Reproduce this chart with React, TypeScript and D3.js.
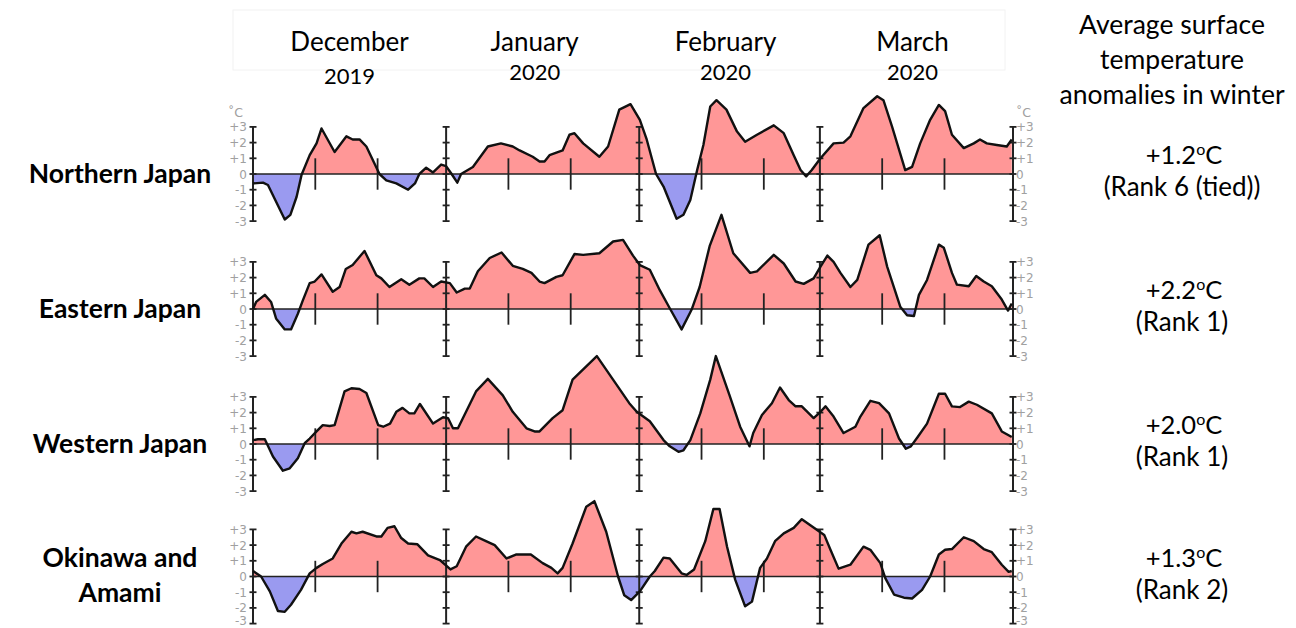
import React, { useRef, useEffect } from "react";
import * as d3 from "d3";

// day offsets from 1 Dec 2019, anomaly in degC
const northern: [number, number][] = [
  [0, -0.6], [1.6, -0.55], [2.4, -0.7], [5.1, -2.9], [6, -2.6], [7, -1.45], [7.8, -0.05], [9.1, 1.2],
  [10.2, 1.95], [11, 2.9], [13.1, 1.4], [15, 2.4], [16, 2.2], [17.1, 2.2], [18.2, 1.75], [20.3, 0],
  [21.4, -0.4], [23, -0.6], [24.9, -1.0], [26, -0.6], [26.7, 0], [27.8, 0.4], [28.9, 0.1], [30.2, 0.6],
  [31, 0.5], [31.8, 0.05], [32.8, -0.55], [33.4, 0], [35.3, 0.45], [37.7, 1.75], [39.8, 1.95], [41.7, 1.75],
  [42.8, 1.5], [44.9, 1.1], [46, 0.8], [46.8, 0.8], [47.6, 1.2], [49.7, 1.5], [50.8, 2.5], [51.6, 2.6],
  [53, 1.95], [55.6, 1.1], [57, 1.75], [58.8, 4.1], [60.6, 4.45], [62.1, 3.45], [63.2, 2.2], [64.7, 0],
  [65.9, -0.8], [68, -2.85], [69.1, -2.6], [70.2, -1.65], [71.3, 0.25], [72.3, 1.85], [73.4, 4.3], [74.4, 4.7],
  [76, 4.1], [77.7, 2.7], [79, 2.05], [80.9, 2.5], [83.6, 3.1], [85.2, 2.6], [86.8, 1.2], [87.9, 0.25],
  [88.8, -0.15], [89.7, 0.25], [91.1, 1.0], [93.2, 1.95], [94.8, 2.0], [95.9, 2.4], [98, 4.2], [100.2, 4.95],
  [101.2, 4.7], [102.6, 3.0], [104.7, 0.25], [105.8, 0.45], [107.1, 1.95], [108.7, 3.45], [110.1, 4.4], [111.1, 4.0],
  [112.2, 2.5], [114.1, 1.65], [115.7, 1.95], [116.7, 2.2], [117.8, 1.95], [119.4, 1.85], [121, 1.75], [121.8, 2.2]
];

const eastern: [number, number][] = [
  [0, 0], [0.5, 0.45], [1.9, 0.9], [2.9, 0.45], [3.7, -0.6], [5.1, -1.3], [6.1, -1.3], [7.2, -0.3],
  [8, 0.55], [9.1, 1.65], [9.9, 1.75], [11, 2.2], [12.8, 1.1], [13.9, 1.4], [14.9, 2.55], [16, 2.8],
  [17.9, 3.7], [19.8, 2.15], [20.6, 1.95], [21.9, 1.4], [23.8, 1.9], [25.1, 1.55], [26.7, 1.95], [27.5, 1.95],
  [28.9, 1.4], [30.2, 1.75], [31.6, 1.65], [32.7, 1.05], [34, 1.3], [34.8, 1.3], [36.1, 2.4], [38, 3.25],
  [39.9, 3.6], [41.7, 2.75], [43.3, 2.55], [44.7, 2.3], [46, 1.75], [46.8, 1.65], [48.7, 2.05], [49.7, 2.15],
  [51.6, 3.5], [53, 3.45], [55.6, 3.55], [57.8, 4.3], [59.4, 4.4], [61, 3.4], [62.1, 2.8], [63.7, 2.5],
  [65.3, 1.2], [66.9, 0.05], [68.8, -1.3], [70.4, -0.05], [71.7, 1.4], [73.3, 4.0], [75.2, 6.0], [77.1, 3.55],
  [79.8, 2.3], [80.9, 2.4], [83.6, 3.45], [85.2, 2.9], [87.1, 1.75], [88.4, 1.6], [90, 1.95], [91.1, 2.7],
  [92.2, 3.4], [93.2, 3.0], [94.3, 2.3], [95.9, 1.4], [97, 1.85], [98.8, 4.1], [100.6, 4.7], [101.8, 2.7],
  [103.9, 0.15], [105, -0.4], [106.1, -0.45], [106.9, 0.9], [108.2, 1.85], [110.1, 4.1], [110.9, 3.9], [112.2, 2.3],
  [113, 1.55], [114.9, 1.45], [116.1, 2.1], [117.3, 1.75], [118.6, 1.45], [120.2, 0.6], [121.2, -0.1], [121.8, 0.35]
];

const western: [number, number][] = [
  [0, 0.25], [0.8, 0.3], [1.9, 0.3], [3.2, -0.8], [4.8, -1.7], [5.9, -1.55], [7.2, -0.9], [8.3, 0.05],
  [9.1, 0.35], [10.2, 0.8], [11.2, 1.2], [12.3, 1.15], [13.1, 1.2], [14.7, 3.35], [15.8, 3.55], [17.1, 3.5],
  [18.2, 3.25], [20.1, 1.2], [20.9, 1.1], [22, 1.3], [23, 2.05], [24, 2.3], [25.1, 1.95], [25.9, 1.95],
  [26.8, 2.55], [28.9, 1.3], [30.5, 1.7], [31.3, 1.65], [32.1, 1.0], [32.9, 1.0], [35.8, 3.35], [37.7, 4.15],
  [40.1, 3.1], [41.7, 2.05], [43.9, 1.0], [45.2, 0.8], [46, 0.8], [48.1, 1.65], [49.7, 2.15], [51.3, 4.1],
  [55.2, 5.6], [57.8, 4.1], [60.4, 2.6], [61.6, 2.05], [63.7, 1.45], [65.9, 0.25], [66.9, -0.15], [68.3, -0.5],
  [69.1, -0.4], [70.2, 0.25], [71.8, 1.95], [73.4, 4.1], [74.3, 5.6], [76.5, 3.1], [78.2, 1.1], [79.7, -0.15],
  [80.3, 0.7], [81.7, 1.85], [83.3, 2.6], [84.6, 3.6], [86, 2.8], [87.1, 2.4], [88.1, 2.4], [90, 1.65],
  [91.1, 2.05], [91.9, 2.4], [93.2, 1.75], [94.8, 0.7], [96.7, 1.1], [97.5, 1.75], [99.1, 2.75], [100.5, 2.6],
  [102.1, 1.95], [103.7, 0.35], [104.8, -0.3], [105.6, -0.15], [106.7, 0.45], [108.2, 1.3], [110.1, 3.2], [111.1, 3.2],
  [112.2, 2.4], [113.5, 2.35], [114.9, 2.7], [116.2, 2.5], [118.6, 1.95], [120.2, 0.8], [121.8, 0.45]
];

const okinawa: [number, number][] = [
  [0, 0.35], [1.3, 0], [2.7, -0.95], [4, -2.2], [5.1, -2.25], [6.1, -1.8], [7.7, -0.85], [9.1, 0.2],
  [10.2, 0.55], [11.2, 0.8], [12.8, 1.15], [14.2, 2.1], [15.8, 2.85], [16.6, 2.75], [17.6, 2.85], [19.8, 2.55],
  [20.6, 2.55], [21.6, 3.1], [22.7, 3.2], [23.8, 2.45], [24.9, 2.1], [26.4, 2.05], [28.1, 1.35], [30, 1.05],
  [31.7, 0.45], [32.7, 0.65], [34.2, 1.9], [35.8, 2.55], [37.4, 2.25], [38.8, 2.0], [40.7, 1.15], [42.2, 1.4],
  [44.6, 1.4], [46.5, 0.85], [47.9, 0.55], [48.9, 0.2], [49.7, 0.55], [51.3, 2.1], [53.5, 4.45], [54.8, 4.8],
  [56.7, 2.85], [58.6, 0], [59.6, -1.2], [60.7, -1.5], [62.1, -0.95], [63.7, 0], [64.5, 0.35], [65.9, 1.2],
  [66.9, 1.15], [68.8, 0.2], [69.6, 0.1], [70.8, 0.45], [72.6, 2.25], [73.9, 4.3], [74.9, 4.3], [76.1, 1.9],
  [77.4, -0.2], [79, -1.9], [80.1, -1.6], [81.4, 0.55], [82.5, 1.15], [83.8, 2.25], [85.2, 2.75], [86.8, 3.1],
  [88.1, 3.65], [89.7, 3.2], [91.7, 2.65], [92.7, 1.7], [94, 0.5], [95.9, 0.75], [98, 1.9], [99.1, 1.7],
  [100.7, 0.85], [101.5, -0.1], [102.9, -1.15], [104.5, -1.35], [105.8, -1.4], [107.4, -0.85], [108.7, 0], [110.1, 1.4],
  [111.1, 1.7], [112.2, 1.75], [114.1, 2.5], [115.7, 2.25], [117.3, 1.75], [118.6, 1.55], [120.2, 0.75], [121.3, 0.3],
  [121.8, 0.35]
];

const regions = [["Northern Japan"], ["Eastern Japan"], ["Western Japan"], ["Okinawa and", "Amami"]];
const seriesList = [northern, eastern, western, okinawa];
const anomalies = ["+1.2", "+2.2", "+2.0", "+1.3"];
const ranks = ["(Rank 6 (tied))", "(Rank 1)", "(Rank 1)", "(Rank 2)"];
const months = [["December", "2019"], ["January", "2020"], ["February", "2020"], ["March", "2020"]];
const headerLines = ["Average surface", "temperature", "anomalies in winter"];
const yTicks = [3, 2, 1, 0, -1, -2, -3];

const FONT = "Lato, 'Open Sans', sans-serif";
const TICKFONT = "'DejaVu Sans', sans-serif";

export default function App() {
  const ref = useRef<SVGSVGElement>(null);

  useEffect(() => {
    const svg = d3.select(ref.current);
    svg.selectAll("*").remove();

    const start = new Date(2019, 11, 1);
    const end = new Date(2020, 3, 1);
    const toDate = (d: number) => new Date(start.getTime() + d * 864e5);
    const x = d3.scaleTime().domain([start, end]).range([253, 1013]);
    const monthStarts = d3.timeMonth.range(start, d3.timeDay.offset(end, 1));
    const minor: Date[] = [];
    monthStarts.slice(0, 4).forEach((m) => {
      minor.push(d3.timeDay.offset(m, 10), d3.timeDay.offset(m, 20));
    });

    // header
    const header = svg.append("g");
    header.append("rect").attr("x", 233).attr("y", 10).attr("width", 772).attr("height", 60)
      .attr("fill", "none").attr("stroke", "#f2f2f2");
    const monthMid = monthStarts.slice(0, 4).map((m, i) => (x(m) + x(monthStarts[i + 1])) / 2);
    months.forEach((m, i) => {
      const cx = monthMid[i] + [0, -8, -4, -4][i];
      header.append("text").attr("x", cx).attr("y", 51).attr("text-anchor", "middle")
        .attr("font-family", FONT).attr("font-size", 26).text(m[0]);
      header.append("text").attr("x", cx).attr("y", [84, 80, 80, 80][i]).attr("text-anchor", "middle")
        .attr("font-family", FONT).attr("font-size", 22).text(m[1]);
    });
    headerLines.forEach((t, i) => {
      header.append("text").attr("x", 1172).attr("y", 34 + i * 35).attr("text-anchor", "middle")
        .attr("font-family", FONT).attr("font-size", 26.5).text(t);
    });

    const zeros = [174, 309, 444, 576.5];

    seriesList.forEach((series, i) => {
      const z = zeros[i];
      const y = d3.scaleLinear().domain([-3, 3]).range([z + 47.1, z - 47.1]);
      const g = svg.append("g");

      const upId = "up" + i;
      const dnId = "dn" + i;
      const defs = g.append("defs");
      defs.append("clipPath").attr("id", upId).append("rect")
        .attr("x", 0).attr("y", z - 200).attr("width", 1296).attr("height", 200);
      defs.append("clipPath").attr("id", dnId).append("rect")
        .attr("x", 0).attr("y", z).attr("width", 1296).attr("height", 200);

      const area = d3.area<[number, number]>()
        .x((d) => x(toDate(d[0])))
        .y0(y(0))
        .y1((d) => y(d[1]));
      const line = d3.line<[number, number]>()
        .x((d) => x(toDate(d[0])))
        .y((d) => y(d[1]));

      g.append("path").datum(series).attr("d", area).attr("fill", "#ff9797")
        .attr("clip-path", `url(#${upId})`);
      g.append("path").datum(series).attr("d", area).attr("fill", "#9a9af0")
        .attr("clip-path", `url(#${dnId})`);

      // zero line
      g.append("line").attr("x1", x(start)).attr("x2", x(end)).attr("y1", y(0)).attr("y2", y(0))
        .attr("stroke", "#222").attr("stroke-width", 1.6);

      // month boundary axes
      monthStarts.forEach((m) => {
        const mx = x(m);
        g.append("line").attr("x1", mx).attr("x2", mx).attr("y1", y(3)).attr("y2", y(-3))
          .attr("stroke", "#222").attr("stroke-width", 2);
        yTicks.forEach((t) => {
          g.append("line").attr("x1", mx - 3.5).attr("x2", mx + 3.5).attr("y1", y(t)).attr("y2", y(t))
            .attr("stroke", "#222").attr("stroke-width", 1.8);
        });
      });
      minor.forEach((m) => {
        const mx = x(m);
        g.append("line").attr("x1", mx).attr("x2", mx).attr("y1", y(1)).attr("y2", y(-1))
          .attr("stroke", "#222").attr("stroke-width", 1.8);
      });

      g.append("path").datum(series).attr("d", line).attr("fill", "none")
        .attr("stroke", "#111").attr("stroke-width", 2.4).attr("stroke-linejoin", "round");

      // tick labels
      yTicks.forEach((t) => {
        const lab = t > 0 ? "+" + t : String(t);
        const ty = Math.min(y(t) + 4.5, 625);
        g.append("text").attr("x", x(start) - 6).attr("y", ty).attr("text-anchor", "end")
          .attr("font-family", TICKFONT).attr("font-size", 12).attr("fill", "#a0a0a0").text(lab);
        g.append("text").attr("x", x(end) + 3).attr("y", ty).attr("text-anchor", "start")
          .attr("font-family", TICKFONT).attr("font-size", 12).attr("fill", "#a0a0a0").text(lab);
      });
      if (i === 0) {
        g.append("text").attr("x", x(start) - 25).attr("y", y(3) - 10)
          .attr("font-family", TICKFONT).attr("font-size", 12.5).attr("fill", "#a0a0a0").text("˚C");
        g.append("text").attr("x", x(end) + 3).attr("y", y(3) - 10)
          .attr("font-family", TICKFONT).attr("font-size", 12.5).attr("fill", "#a0a0a0").text("˚C");
      }

      // region label
      const names = regions[i];
      names.forEach((n, k) => {
        const yy = names.length > 1 ? z + 7.5 + (k - 0.5) * 35 : z + 8.7;
        g.append("text").attr("x", 120).attr("y", yy).attr("text-anchor", "middle")
          .attr("font-family", FONT).attr("font-weight", "bold").attr("font-size", 26.5).text(n);
      });

      // right column
      const t1 = g.append("text").attr("x", 1184).attr("y", z - 10).attr("text-anchor", "middle")
        .attr("font-family", FONT).attr("font-size", 25.5);
      t1.append("tspan").text(anomalies[i]);
      t1.append("tspan").attr("dy", -9).attr("font-size", 16).text("o");
      t1.append("tspan").attr("dy", 9).text("C");
      g.append("text").attr("x", 1182).attr("y", z + 22).attr("text-anchor", "middle")
        .attr("font-family", FONT).attr("font-size", 26).text(ranks[i]);
    });
  }, []);

  return (
    <svg ref={ref} width={1296} height={628}
      style={{ position: "absolute", left: 0, top: 0, background: "#fff" }} />
  );
}
